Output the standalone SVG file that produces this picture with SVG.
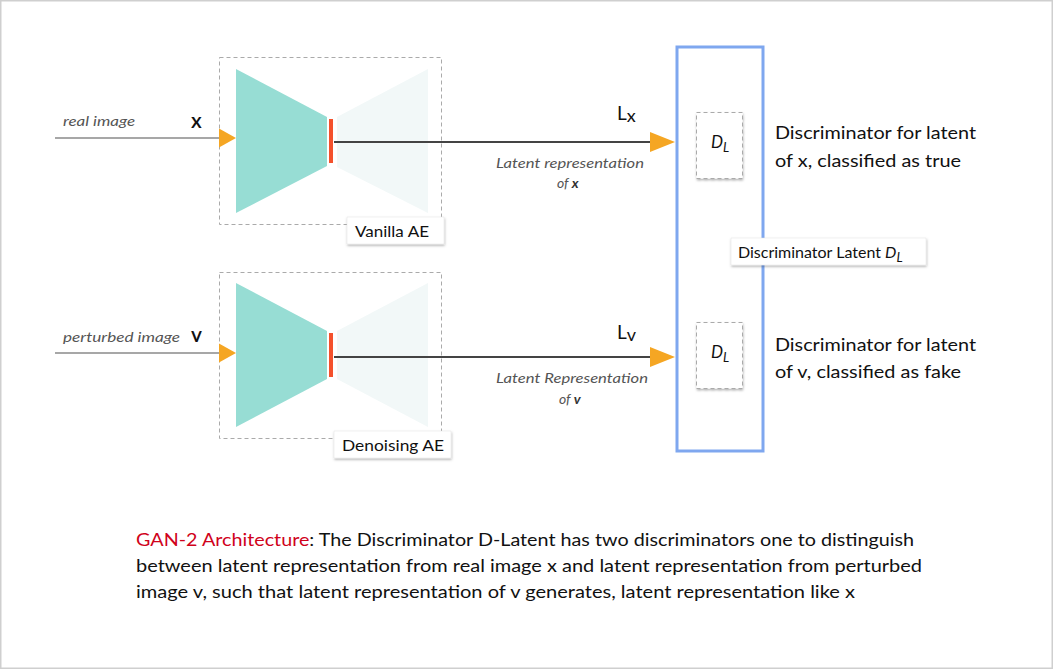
<svg xmlns="http://www.w3.org/2000/svg" width="1053" height="669" viewBox="0 0 1053 669">
<defs>
<style>
.t{font-family:Lato,"Noto Sans","Liberation Sans",sans-serif;fill:#111;}
.it{font-family:Lato,"Noto Sans","Liberation Sans",sans-serif;font-style:italic;fill:#555;font-size:14px;}
.dash{fill:none;stroke:#aaa;stroke-width:1;stroke-dasharray:4 3;}
.enc{fill:#97ddd4;}
.dec{fill:#f2f8f8;}
.bar{fill:#f4512c;stroke:#fff;stroke-width:1;}
.arr{fill:#f5a623;}
.lbl{fill:#fff;stroke:#e2e2e2;stroke-width:0.5;filter:url(#sh);}
.dl{fill:#fff;stroke:#aaa;stroke-width:1;stroke-dasharray:4 3;filter:url(#sh);}
</style>
<filter id="sh" x="-20%" y="-20%" width="140%" height="150%">
<feDropShadow dx="0.5" dy="1.5" stdDeviation="1.2" flood-color="#000" flood-opacity="0.3"/>
</filter>
</defs>
<rect x="0.75" y="0.75" width="1051.5" height="667.5" fill="#fff" stroke="#cfcfcf" stroke-width="1.5"/>

<g id="input-x">
<text class="it" x="63" y="126" textLength="72" lengthAdjust="spacingAndGlyphs">real image</text>
<text class="t" x="191" y="128" font-size="21" font-weight="600">x</text>
</g>
<g id="input-v">
<text class="it" x="63" y="342" textLength="117" lengthAdjust="spacingAndGlyphs">perturbed image</text>
<text class="t" x="191" y="342" font-size="21" font-weight="600">v</text>
</g>

<g id="vanilla-ae">
<rect class="dash" x="219.5" y="57.5" width="222" height="167"/>
<polygon class="enc" points="236,69 327,117 327,166 236,213"/>
<polygon class="dec" points="337,117 428,69 428,213 337,167"/>
<rect class="bar" x="328.5" y="118.5" width="5" height="45"/>
<rect class="lbl" x="347" y="217" width="97" height="27"/>
<text class="t" x="355" y="237" font-size="16" textLength="74" lengthAdjust="spacingAndGlyphs">Vanilla AE</text>
</g>

<g id="denoising-ae">
<rect class="dash" x="219.5" y="272.5" width="222" height="166"/>
<polygon class="enc" points="236,283 327,331 327,379 236,427"/>
<polygon class="dec" points="337,331 428,283 428,427 337,379"/>
<rect class="bar" x="328.5" y="332.5" width="5" height="45"/>
<rect class="lbl" x="334" y="431" width="117" height="27"/>
<text class="t" x="342" y="451" font-size="16" textLength="102" lengthAdjust="spacingAndGlyphs">Denoising AE</text>
</g>

<g id="latent-x">
<text class="t" x="617" y="120" font-size="19">L<tspan font-size="18" dy="2">x</tspan></text>
<text class="it" x="496" y="168" textLength="148" lengthAdjust="spacingAndGlyphs">Latent representation</text>
<text class="it" x="557" y="188">of <tspan font-weight="bold" fill="#333">x</tspan></text>
</g>
<g id="latent-v">
<text class="t" x="617" y="339" font-size="19">L<tspan font-size="18" dy="2">v</tspan></text>
<text class="it" x="496" y="383" textLength="152" lengthAdjust="spacingAndGlyphs">Latent Representation</text>
<text class="it" x="559" y="404">of <tspan font-weight="bold" fill="#333">v</tspan></text>
</g>

<g id="discriminator-latent">
<rect x="677" y="47" width="86" height="404" fill="none" stroke="#7fa7ef" stroke-width="3"/>
<rect class="lbl" x="731" y="238" width="195" height="27"/>
<text class="t" x="738" y="258" font-size="16">Discriminator Latent <tspan font-style="italic">D</tspan><tspan font-style="italic" font-size="13" dy="4">L</tspan></text>
</g>

<g id="dl-x">
<rect class="dl" x="696.5" y="112.5" width="46" height="66"/>
<text class="t" x="711" y="148" font-size="17" font-style="italic">D<tspan font-size="13" dy="4">L</tspan></text>
</g>
<g id="dl-v">
<rect class="dl" x="696.5" y="322.5" width="46" height="66"/>
<text class="t" x="711" y="358" font-size="17" font-style="italic">D<tspan font-size="13" dy="4">L</tspan></text>
</g>

<g id="desc-x">
<text class="t" x="775" y="139" font-size="18" textLength="201" lengthAdjust="spacingAndGlyphs">Discriminator for latent</text>
<text class="t" x="775" y="167" font-size="18" textLength="186" lengthAdjust="spacingAndGlyphs">of x, classified as true</text>
</g>
<g id="desc-v">
<text class="t" x="775" y="351" font-size="18" textLength="201" lengthAdjust="spacingAndGlyphs">Discriminator for latent</text>
<text class="t" x="775" y="378" font-size="18" textLength="186" lengthAdjust="spacingAndGlyphs">of v, classified as fake</text>
</g>

<g id="connectors">
<line x1="55" y1="138" x2="220" y2="138" stroke="#8a8a8a" stroke-width="1.3"/>
<line x1="55" y1="353" x2="220" y2="353" stroke="#8a8a8a" stroke-width="1.3"/>
<line x1="334" y1="142" x2="652" y2="142" stroke="#444" stroke-width="2"/>
<line x1="334" y1="357" x2="652" y2="357" stroke="#444" stroke-width="2"/>
<polygon class="arr" points="219,128.5 236,138 219,147.5"/>
<polygon class="arr" points="219,343.5 236,353 219,362.5"/>
<polygon class="arr" points="650,132 675,142 650,152"/>
<polygon class="arr" points="650,347 675,357 650,367"/>
</g>

<g id="caption">
<text class="t" x="136" y="546" font-size="17.5" textLength="778" lengthAdjust="spacingAndGlyphs"><tspan fill="#d0021b">GAN-2 Architecture</tspan>: The Discriminator D-Latent has two discriminators one to distinguish</text>
<text class="t" x="136" y="572" font-size="17.5" textLength="786" lengthAdjust="spacingAndGlyphs">between latent representation from real image x and latent representation from perturbed</text>
<text class="t" x="136" y="598" font-size="17.5" textLength="719" lengthAdjust="spacingAndGlyphs">image v, such that latent representation of v generates, latent representation like x</text>
</g>
</svg>
